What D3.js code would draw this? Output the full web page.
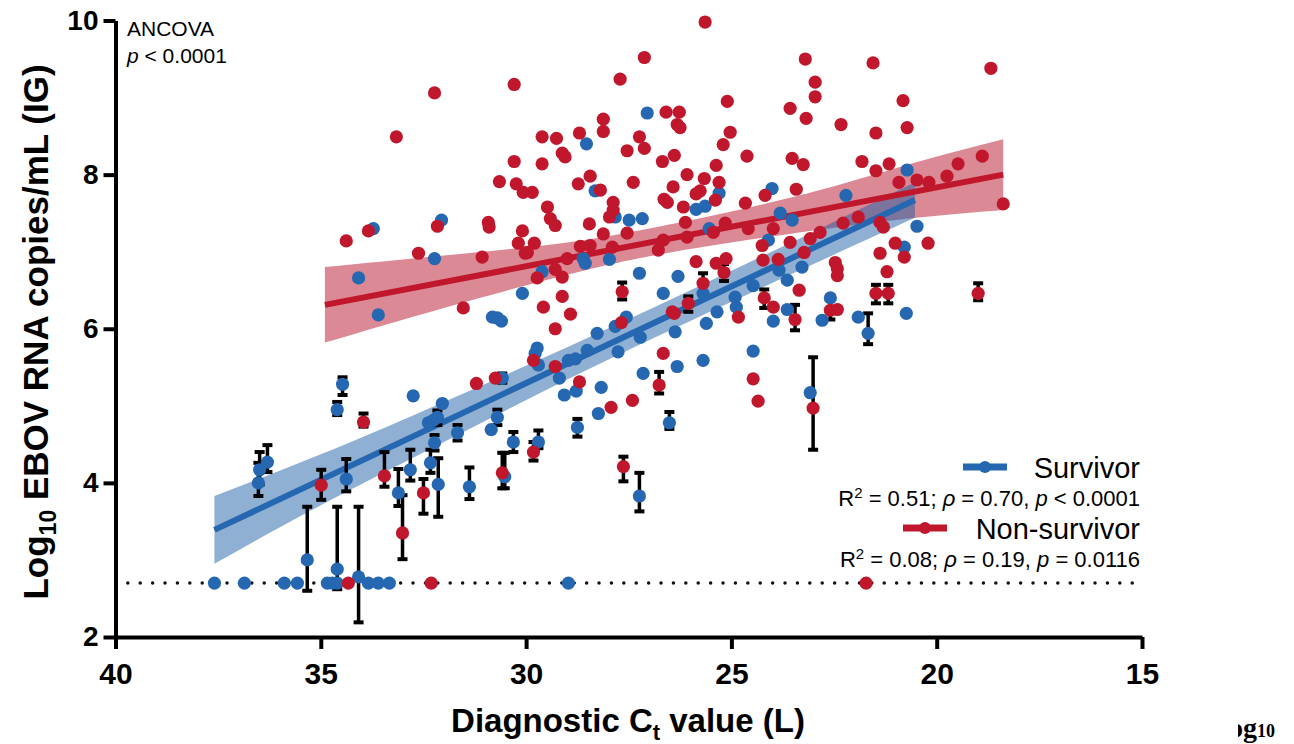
<!DOCTYPE html>
<html>
<head>
<meta charset="utf-8">
<script src="https://cdn.jsdelivr.net/npm/d3@7"></script>
<style>
  body { margin: 0; background: #fff; }
  svg { display: block; font-family: "Liberation Sans", Arial, Helvetica, sans-serif; }
</style>
</head>
<body>
<svg id="chart"></svg>
<script>
const xTicks = [40, 35, 30, 25, 20, 15];
const yTicks = [2, 4, 6, 8, 10];
const lod = 2.7;

// [Ct, log10 copies/mL, bar top, bar bottom] - bars only where the picture has them
const survivor = [
  [37.59,2.70],[36.86,2.70],[35.89,2.70],[35.57,2.70],[34.84,2.70],[34.72,2.70],[34.60,2.70],[33.84,2.70],[33.60,2.70],[33.33,2.70],[28.97,2.70],
  [35.33,3.00,3.69,2.60],[34.60,2.88,3.69,2.62],[34.08,2.78,3.69,2.19],
  [36.52,4.00,4.26,3.83],[36.49,4.17,4.40,3.98],[36.30,4.27,4.49,4.14],
  [34.47,5.28,5.37,5.14],[34.60,4.95,5.05,4.88],[32.75,5.13],
  [34.38,4.05,4.31,3.89],[33.11,3.87,4.18,3.70],[32.82,4.17,4.43,4.03],[32.33,4.26,4.43,4.13],[32.23,4.52,4.62,4.42],[32.14,3.98,4.32,3.56],
  [32.38,4.78],[32.26,4.81],[32.16,4.85,4.94,4.75],[32.04,5.03],[31.67,4.65,4.75,4.55],[31.38,3.95,4.20,3.79],
  [30.85,4.69],[30.70,4.85,4.95,4.75],[30.58,5.36,5.42,5.30],[30.52,4.08,4.39,3.93],[30.31,4.53,4.66,4.40],[29.70,4.53,4.68,4.45],
  [29.73,5.75],[29.78,5.68],[29.70,5.53],
  [34.08,6.66],[33.60,6.18],[32.23,6.91],[30.82,6.15],[30.70,6.14],[30.60,6.10],[30.09,6.46],[29.61,6.74],[33.72,7.30],[32.06,7.41],
  [27.05,8.80],[28.53,8.40],[28.32,7.79],[25.30,7.76],[25.86,7.55],[25.64,7.59],[27.83,7.45],[27.49,7.41],[27.17,7.43],[25.54,7.30],
  [28.61,6.91],[28.56,6.85],[27.97,6.90],[27.24,6.72],[26.30,6.68],[26.66,6.46],[25.69,6.46],[25.35,6.22],[24.91,6.41],[24.88,6.28],[24.47,6.56],
  [27.56,6.15],[27.83,6.03],[28.27,5.94],[27.22,5.89],[26.37,5.96],[29.19,5.36],[28.97,5.59],[28.80,5.61],[28.51,5.72],[27.76,5.70],[26.32,5.51],[27.15,5.42],
  [29.07,5.14],[28.78,5.19],[28.17,5.24],[28.24,4.90],[26.51,4.78,4.92,4.70],[28.75,4.72,4.83,4.60],[27.24,3.83,4.13,3.63],
  [25.69,5.59],[24.47,5.71],[23.08,5.17],[25.61,6.07],[23.98,6.10],[23.64,6.25],[23.28,6.80],[22.79,6.11],[22.59,6.40],[21.91,6.15],[21.67,5.94,6.20,5.80],[20.74,6.20],
  [23.64,6.63],[23.84,6.76],[20.48,7.33],[22.21,7.73],[20.79,7.06],[24.10,7.15],[23.81,7.50],[23.52,7.41],[24.01,7.82],[20.72,8.06]
];

const nonSurvivor = [
  [34.33,2.70],[32.31,2.70],[21.72,2.70],
  [33.96,4.79,4.90,4.73],[34.99,3.97,4.17,3.78],[33.45,4.09,4.40,3.95],[33.01,3.35,3.84,3.01],[32.50,3.87,4.05,3.60],[30.58,4.13,4.39,3.93],
  [29.82,4.40,4.53,4.29],[26.76,5.27,5.44,5.16],[27.63,4.21,4.34,4.02],[23.01,4.97,5.63,4.43],
  [27.66,6.48,6.60,6.38],[25.69,6.59,6.72,6.47],[26.05,6.33,6.42,6.22],[25.18,6.73,6.84,6.62],[24.20,6.40,6.51,6.27],[23.45,6.12,6.31,5.98],
  [22.59,6.24,6.40,6.12],[21.48,6.46,6.57,6.33],[21.18,6.46,6.57,6.33],[18.99,6.46,6.59,6.37],
  [30.75,5.36],[31.21,5.29],[29.82,5.59],[29.29,5.51],[28.70,5.31],[27.93,4.98],[27.41,5.07],[26.66,5.68],[29.29,6.00],[27.68,6.08],[26.39,6.20],
  [28.92,6.19],[29.58,6.28],[29.12,6.42],[31.53,6.27],
  [29.73,6.66],[29.29,6.77],[29.12,6.67],[29.00,6.91],[31.07,6.93],[32.62,6.98],[30.02,6.98],[34.38,7.14],[33.84,7.27],[32.16,7.33],
  [33.16,8.49],[32.23,9.06],[30.29,9.17],[27.71,9.24],[27.12,9.52],[25.64,9.98],[25.10,8.95],[26.59,8.81],[26.27,8.81],[26.32,8.65],[26.25,8.61],
  [28.12,8.72],[28.12,8.56],[25.03,8.55],[25.20,8.39],
  [28.70,8.54],[29.61,8.49],[29.26,8.47],[27.24,8.49],[27.12,8.34],[27.54,8.31],[29.12,8.28],[29.05,8.23],[24.62,8.24],[26.68,8.17],[26.39,8.25],
  [30.29,8.17],[29.61,8.14],[25.37,8.12],
  [28.44,7.98],[26.08,8.00],[25.66,7.95],[30.65,7.91],[30.24,7.88],[30.07,7.77],[29.85,7.77],[28.73,7.88],[27.39,7.90],[26.42,7.84],[25.30,7.90],
  [28.19,7.80],[25.86,7.75],[25.76,7.79],[25.39,7.67],[24.66,7.63],
  [26.64,7.68],[26.56,7.64],[26.17,7.58],[27.88,7.64],[27.88,7.54],[27.97,7.45],[29.48,7.58],[29.41,7.43],[29.29,7.34],[28.46,7.36],[26.12,7.38],
  [30.92,7.38],[30.90,7.32],[30.09,7.27],[27.54,7.24],[25.44,7.25],[25.15,7.37],[28.12,7.23],
  [30.19,7.11],[29.80,7.11],[29.97,6.99],[28.68,7.07],[28.44,7.08],[27.90,7.06],[26.78,7.02],[26.66,7.15],[26.08,7.19],[25.86,6.87],[25.37,6.85],[25.13,6.91],
  [26.44,6.22],[24.83,6.15],[24.47,5.35],[24.35,5.06],[23.98,6.28],[23.35,6.50],[22.42,6.25],[22.47,6.86],[22.42,6.78],[22.42,6.69],[21.21,6.74],
  [21.38,6.98],[20.79,6.93],[23.86,6.90],[23.23,6.99],
  [18.38,7.62],[20.21,7.11],[21.38,7.38],[21.30,7.32],[21.91,7.45],[22.28,7.37],[20.92,7.90],[20.48,7.93],[21.01,7.11],
  [23.08,7.17],[22.84,7.25],[23.57,7.12],[24.25,7.08],[24.23,6.89],[23.98,7.30],[24.59,7.30],[24.18,7.73],[23.42,7.81],
  [23.20,9.50],[21.55,9.45],[18.68,9.38],[22.96,9.20],[22.96,9.01],[20.82,8.96],[23.57,8.86],[23.18,8.73],[22.33,8.65],[21.48,8.54],[20.72,8.61],
  [23.52,8.21],[23.25,8.13],[21.82,8.17],[21.48,8.05],[21.16,8.14],[20.19,7.90],[19.75,7.98],[19.48,8.14],[18.89,8.24]
];

// fitted lines (end points) and 95% bands [Ct, low, high]
const survivorFit = [[37.59, 3.39], [20.53, 7.67]];
const survivorBand = [
  [37.59, 2.95, 3.83], [35, 3.71, 4.37], [32, 4.53, 5.05], [29, 5.34, 5.76],
  [26, 6.10, 6.50], [23, 6.84, 7.26], [20.53, 7.44, 7.90]
];
const nonSurvivorFit = [[34.9, 6.31], [18.38, 8.0]];
const nonSurvivorBand = [
  [34.9, 5.82, 6.80], [32, 6.27, 6.95], [29, 6.70, 7.12], [27, 6.94, 7.30],
  [25, 7.12, 7.52], [22.5, 7.31, 7.85], [20.5, 7.44, 8.16], [18.38, 7.54, 8.46]
];

const legendLabels = ["Survivor", "Non-survivor"];
const legendR2 = ["0.51", "0.08"];
const legendRho = ["0.70", "0.19"];
const legendP = ["< 0.0001", "= 0.0116"];

const BLUE = "#2567b0";
const RED = "#c0172d";

class CtScatter {

  constructor(config) {
    this.config = {
      parent: config.parent,
      width: config.width || 1294,
      height: config.height || 744,
      margin: config.margin || { top: 20.5, right: 152, bottom: 107, left: 115.5 }
    };
    this.init();
  }

  init() {
    let self = this;

    self.svg = d3.select(self.config.parent)
      .attr('width', self.config.width)
      .attr('height', self.config.height);

    self.inner_width = self.config.width - self.config.margin.left - self.config.margin.right;
    self.inner_height = self.config.height - self.config.margin.top - self.config.margin.bottom;

    self.chart = self.svg.append('g')
      .attr('transform', `translate(${self.config.margin.left}, ${self.config.margin.top})`);

    self.xscale = d3.scaleLinear().domain([40, 15]).range([0, self.inner_width]);
    self.yscale = d3.scaleLinear().domain([2, 10]).range([self.inner_height, 0]);
  }

  render() {
    let self = this;
    const x = self.xscale, y = self.yscale;

    // bands
    const band = d3.area()
      .x(d => x(d[0])).y0(d => y(d[1])).y1(d => y(d[2]))
      .curve(d3.curveNatural);
    self.chart.append('path').datum(nonSurvivorBand)
      .attr('d', band).attr('fill', '#b8132b').attr('fill-opacity', 0.5);
    self.chart.append('path').datum(survivorBand)
      .attr('d', band).attr('fill', '#1f5fa8').attr('fill-opacity', 0.5);

    const line = d3.line().x(d => x(d[0])).y(d => y(d[1]));
    self.chart.append('path').datum(nonSurvivorFit)
      .attr('d', line).attr('stroke', RED).attr('stroke-width', 6).attr('fill', 'none');
    self.chart.append('path').datum(survivorFit)
      .attr('d', line).attr('stroke', BLUE).attr('stroke-width', 6).attr('fill', 'none');

    // detection limit
    self.chart.append('line')
      .attr('x1', x(39.7)).attr('x2', x(15.05))
      .attr('y1', y(lod)).attr('y2', y(lod))
      .attr('stroke', '#111').attr('stroke-width', 3.5)
      .attr('stroke-linecap', 'round')
      .attr('stroke-dasharray', '0,12.4');

    // error bars
    const withBars = survivor.concat(nonSurvivor).filter(d => d.length > 2);
    const bars = self.chart.append('g').attr('stroke', '#000');
    bars.selectAll('line.v').data(withBars).join('line')
      .attr('x1', d => x(d[0])).attr('x2', d => x(d[0]))
      .attr('y1', d => y(d[2])).attr('y2', d => y(d[3]))
      .attr('stroke-width', 3.5);
    bars.selectAll('line.top').data(withBars).join('line').attr('class', 'top')
      .attr('x1', d => x(d[0]) - 5).attr('x2', d => x(d[0]) + 5)
      .attr('y1', d => y(d[2])).attr('y2', d => y(d[2]))
      .attr('stroke-width', 4);
    bars.selectAll('line.bot').data(withBars).join('line').attr('class', 'bot')
      .attr('x1', d => x(d[0]) - 5).attr('x2', d => x(d[0]) + 5)
      .attr('y1', d => y(d[3])).attr('y2', d => y(d[3]))
      .attr('stroke-width', 4);

    // points
    self.chart.append('g').selectAll('circle').data(survivor).join('circle')
      .attr('cx', d => x(d[0])).attr('cy', d => y(d[1])).attr('r', 6.6).attr('fill', BLUE);
    self.chart.append('g').selectAll('circle').data(nonSurvivor).join('circle')
      .attr('cx', d => x(d[0])).attr('cy', d => y(d[1])).attr('r', 6.6).attr('fill', RED);

    // axes
    const xaxis = d3.axisBottom(x).tickValues(xTicks).tickSize(12).tickSizeOuter(0).tickPadding(14);
    const yaxis = d3.axisLeft(y).tickValues(yTicks).tickSize(12).tickSizeOuter(0).tickPadding(5);

    const xg = self.chart.append('g')
      .attr('transform', `translate(0, ${self.inner_height})`)
      .call(xaxis);
    const yg = self.chart.append('g').call(yaxis);

    [xg, yg].forEach(g => {
      g.select('.domain').attr('stroke', '#000').attr('stroke-width', 4);
      g.selectAll('.tick line').attr('stroke', '#000').attr('stroke-width', 4);
      g.selectAll('.tick text')
        .attr('fill', '#000')
        .style('font-family', '"Liberation Sans", Arial, sans-serif')
        .style('font-weight', 'bold');
    });
    xg.selectAll('.tick text').style('font-size', '30px');
    yg.selectAll('.tick text').style('font-size', '28px');

    // axis titles
    const xt = self.svg.append('text')
      .attr('x', 628).attr('y', 732)
      .attr('text-anchor', 'middle')
      .style('font-size', '33px').style('font-weight', 'bold');
    xt.append('tspan').text('Diagnostic C');
    xt.append('tspan').attr('dy', 8).style('font-size', '22px').text('t');
    xt.append('tspan').attr('dy', -8).text(' value (L)');

    const yt = self.svg.append('text')
      .attr('transform', 'translate(48, 332) rotate(-90)')
      .attr('text-anchor', 'middle')
      .style('font-size', '35px').style('font-weight', 'bold');
    yt.append('tspan').text('Log');
    yt.append('tspan').attr('dy', 8).style('font-size', '23px').text('10');
    yt.append('tspan').attr('dy', -8).text(' EBOV RNA copies/mL (IG)');

    // ANCOVA note
    self.svg.append('text').attr('x', 127).attr('y', 36)
      .style('font-size', '21px').text('ANCOVA');
    const an = self.svg.append('text').attr('x', 127).attr('y', 63).style('font-size', '21px');
    an.append('tspan').style('font-style', 'italic').text('p');
    an.append('tspan').text(' < 0.0001');

    // legend
    const colors = [BLUE, RED];
    const rowY = [467, 528];
    const lineX = [[963, 1007], [903, 947]];
    legendLabels.forEach((lab, i) => {
      self.svg.append('line')
        .attr('x1', lineX[i][0]).attr('x2', lineX[i][1])
        .attr('y1', rowY[i]).attr('y2', rowY[i])
        .attr('stroke', colors[i]).attr('stroke-width', 7);
      self.svg.append('circle')
        .attr('cx', (lineX[i][0] + lineX[i][1]) / 2).attr('cy', rowY[i])
        .attr('r', 6).attr('fill', colors[i]);
      self.svg.append('text')
        .attr('x', 1140).attr('y', rowY[i] + 11)
        .attr('text-anchor', 'end')
        .style('font-size', '29px').text(lab);
      const st = self.svg.append('text')
        .attr('x', 1140).attr('y', rowY[i] + 39)
        .attr('text-anchor', 'end')
        .style('font-size', '22px');
      st.append('tspan').text('R');
      st.append('tspan').attr('dy', -8).style('font-size', '15px').text('2');
      st.append('tspan').attr('dy', 8).text(` = ${legendR2[i]}; `);
      st.append('tspan').style('font-style', 'italic').text('\u03c1');
      st.append('tspan').text(` = ${legendRho[i]}, `);
      st.append('tspan').style('font-style', 'italic').text('p');
      st.append('tspan').text(` ${legendP[i]}`);
    });

    // cropped text fragment at the bottom right corner
    const clip = self.svg.append('clipPath').attr('id', 'frag');
    clip.append('rect').attr('x', 1238).attr('y', 700).attr('width', 60).attr('height', 44);
    const fr = self.svg.append('text')
      .attr('x', 1229).attr('y', 737)
      .attr('clip-path', 'url(#frag)')
      .style('font-family', '"Liberation Serif", "Times New Roman", serif')
      .style('font-weight', 'bold').style('font-size', '28px');
    fr.append('tspan').text('og');
    fr.append('tspan').style('font-size', '18px').text('10');
  }
}

let chart = new CtScatter({ parent: '#chart' });
chart.render();
</script>
</body>
</html>
